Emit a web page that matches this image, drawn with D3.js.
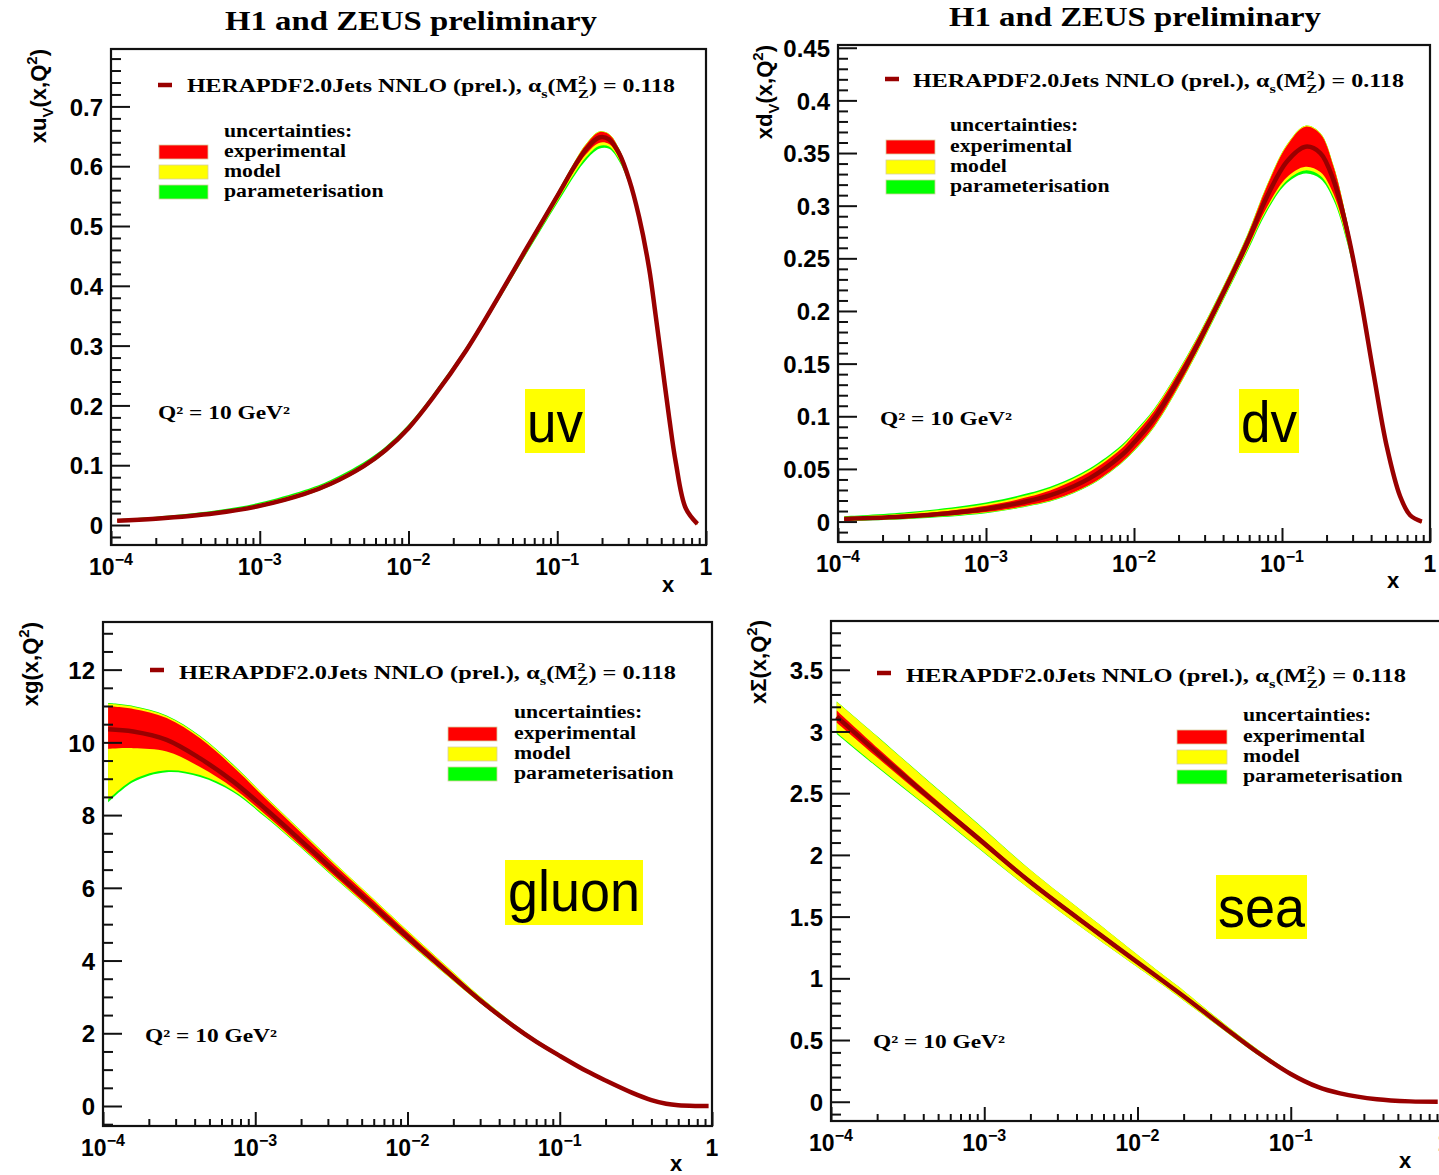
<!DOCTYPE html>
<html>
<head>
<meta charset="utf-8">
<script src="https://cdn.jsdelivr.net/npm/d3@7"></script>
<style>
body { margin: 0; background: #fff; }
.serif { font-family: "Liberation Serif", "Times New Roman", serif; font-weight: bold; fill: #000; }
.sans { font-family: "Liberation Sans", Arial, sans-serif; font-weight: bold; fill: #000; }
.tag { font-family: "Liberation Sans", Arial, sans-serif; font-weight: normal; fill: #000; }
</style>
</head>
<body>
<svg id="chart" width="1439" height="1175"></svg>
<script>
// ---- data (Q2 = 10 GeV2) ----
// xu_v
var uvX       = [1.1e-4, 2e-4, 5e-4, 1e-3, 2e-3, 3e-3, 5e-3, 7e-3, 0.01, 0.0145, 0.0244, 0.041, 0.062, 0.1, 0.133, 0.156, 0.191, 0.223, 0.261, 0.304, 0.355, 0.414, 0.459, 0.509, 0.565, 0.626, 0.731, 0.875];
var uvCentral = [0.007, 0.0105, 0.0197, 0.032, 0.052, 0.069, 0.0985, 0.125, 0.162, 0.212, 0.292, 0.385, 0.462, 0.550, 0.603, 0.628, 0.648, 0.645, 0.621, 0.578, 0.515, 0.430, 0.350, 0.265, 0.180, 0.105, 0.028, 0.002];
var uvExpUp   = [0.001, 0.001, 0.001, 0.0015, 0.002, 0.002, 0.002, 0.002, 0.002, 0.002, 0.0025, 0.003, 0.004, 0.005, 0.007, 0.008, 0.009, 0.008, 0.007, 0.005, 0.004, 0.003, 0.002, 0.002, 0.001, 0.001, 0.001, 0.001];
var uvExpDn   = [0.001, 0.001, 0.001, 0.0015, 0.002, 0.002, 0.002, 0.002, 0.002, 0.002, 0.0025, 0.003, 0.004, 0.005, 0.007, 0.008, 0.009, 0.008, 0.007, 0.005, 0.004, 0.003, 0.002, 0.002, 0.001, 0.001, 0.001, 0.001];
var uvModUp   = [0.001, 0.001, 0.0015, 0.002, 0.002, 0.002, 0.002, 0.002, 0.002, 0.002, 0.0015, 0.001, 0.001, 0.001, 0.001, 0.001, 0.001, 0.001, 0.001, 0.001, 0, 0, 0, 0, 0, 0, 0, 0];
var uvModDn   = [0.0005, 0.0005, 0.0005, 0.0005, 0.0005, 0.0008, 0.001, 0.001, 0.001, 0.001, 0.0015, 0.002, 0.003, 0.004, 0.005, 0.005, 0.005, 0.004, 0.003, 0.002, 0.001, 0, 0, 0, 0, 0, 0, 0];
var uvParUp   = [0.001, 0.0015, 0.002, 0.002, 0.0025, 0.0025, 0.0025, 0.002, 0.002, 0.002, 0.0015, 0.001, 0.0005, 0, 0, 0, 0, 0, 0, 0, 0, 0, 0, 0, 0, 0, 0, 0];
var uvParDn   = [0.0005, 0.0005, 0.0005, 0.0005, 0.0005, 0.0005, 0.0005, 0.001, 0.001, 0.001, 0.001, 0.0015, 0.002, 0.003, 0.004, 0.005, 0.005, 0.004, 0.003, 0.002, 0.001, 0, 0, 0, 0, 0, 0, 0];

// xd_v
var dvX       = [1.1e-4, 3e-4, 1e-3, 2e-3, 3e-3, 5e-3, 0.0081, 0.01, 0.0137, 0.0229, 0.0385, 0.0582, 0.0794, 0.108, 0.144, 0.1815, 0.223, 0.275, 0.338, 0.415, 0.511, 0.628, 0.734, 0.88];
var dvCentral = [0.0025, 0.005, 0.012, 0.020, 0.027, 0.041, 0.062, 0.075, 0.098, 0.150, 0.212, 0.265, 0.309, 0.342, 0.356, 0.350, 0.324, 0.277, 0.214, 0.141, 0.071, 0.024, 0.006, 0.0];
var dvExpUp   = [0.001, 0.0015, 0.003, 0.004, 0.005, 0.006, 0.0065, 0.007, 0.007, 0.006, 0.005, 0.006, 0.010, 0.015, 0.019, 0.018, 0.013, 0.008, 0.004, 0.002, 0.001, 0.001, 0.001, 0.001];
var dvExpDn   = [0.001, 0.0015, 0.003, 0.004, 0.005, 0.006, 0.0065, 0.007, 0.007, 0.006, 0.005, 0.006, 0.010, 0.015, 0.019, 0.018, 0.013, 0.008, 0.004, 0.002, 0.001, 0.001, 0.001, 0.001];
var dvModUp   = [0.001, 0.0015, 0.0018, 0.002, 0.002, 0.002, 0.0019, 0.0017, 0.0015, 0.0012, 0.001, 0.001, 0.001, 0.001, 0.001, 0.001, 0.001, 0.0005, 0, 0, 0, 0, 0, 0];
var dvModDn   = [0.0005, 0.0005, 0.0005, 0.0005, 0.0005, 0.0005, 0.0005, 0.0008, 0.001, 0.001, 0.001, 0.0015, 0.002, 0.003, 0.0035, 0.0035, 0.003, 0.002, 0.001, 0.0005, 0, 0, 0, 0];
var dvParUp   = [0.0005, 0.001, 0.0013, 0.0015, 0.0015, 0.0015, 0.0014, 0.0012, 0.001, 0.0008, 0.0005, 0.0003, 0, 0, 0, 0, 0, 0, 0, 0, 0, 0, 0, 0];
var dvParDn   = [0.0005, 0.0005, 0.0005, 0.0005, 0.0005, 0.0005, 0.0005, 0.0005, 0.0005, 0.0005, 0.001, 0.0015, 0.002, 0.0025, 0.003, 0.003, 0.0025, 0.002, 0.001, 0.0005, 0, 0, 0, 0];

// xg
var gX        = [1.08e-4, 1.58e-4, 2.62e-4, 4.34e-4, 7.18e-4, 1.19e-3, 1.97e-3, 3.26e-3, 5.39e-3, 8.9e-3, 0.018, 0.03, 0.05, 0.07, 0.1, 0.15, 0.2, 0.3, 0.4, 0.5, 0.6, 0.8, 0.95];
var gCentral  = [10.36, 10.30, 10.07, 9.56, 8.92, 8.14, 7.32, 6.49, 5.67, 4.84, 3.71, 2.91, 2.19, 1.77, 1.38, 0.96, 0.70, 0.36, 0.16, 0.06, 0.02, 0.002, 0.0];
var gExpUp    = [0.63, 0.62, 0.60, 0.55, 0.40, 0.28, 0.22, 0.17, 0.15, 0.13, 0.10, 0.07, 0.05, 0.045, 0.04, 0.03, 0.02, 0.01, 0.01, 0, 0, 0, 0];
var gExpDn    = [0.54, 0.46, 0.32, 0.24, 0.18, 0.16, 0.15, 0.14, 0.13, 0.12, 0.09, 0.07, 0.05, 0.045, 0.04, 0.03, 0.02, 0.01, 0.01, 0, 0, 0, 0];
var gModUp    = [0.07, 0.06, 0.05, 0.05, 0.05, 0.05, 0.05, 0.05, 0.05, 0.05, 0.04, 0.03, 0.02, 0.015, 0.01, 0.01, 0, 0, 0, 0, 0, 0, 0];
var gModDn    = [1.40, 0.87, 0.52, 0.22, 0.07, 0.04, 0.03, 0.03, 0.03, 0.02, 0.02, 0.01, 0.01, 0.01, 0.01, 0, 0, 0, 0, 0, 0, 0, 0];
var gParUp    = [0.02, 0.02, 0.02, 0.02, 0.02, 0.01, 0.01, 0.01, 0, 0, 0, 0, 0, 0, 0, 0, 0, 0, 0, 0, 0, 0, 0];
var gParDn    = [0.07, 0.06, 0.05, 0.05, 0.04, 0.03, 0.02, 0.02, 0.01, 0.01, 0, 0, 0, 0, 0, 0, 0, 0, 0, 0, 0, 0, 0];

// x Sigma (sea)
var sX        = [1.09e-4, 2.04e-4, 4.33e-4, 9.2e-4, 1.95e-3, 5.33e-3, 0.0146, 0.02, 0.037, 0.06, 0.1, 0.15, 0.21, 0.365, 0.6, 0.91];
var sCentral  = [3.12, 2.82, 2.47, 2.13, 1.79, 1.38, 0.98, 0.855, 0.60, 0.405, 0.225, 0.12, 0.068, 0.02, 0.003, 0.0];
var sExpUp    = [0.05, 0.04, 0.03, 0.025, 0.02, 0.02, 0.015, 0.015, 0.01, 0.01, 0.005, 0.003, 0, 0, 0, 0];
var sExpDn    = [0.05, 0.04, 0.03, 0.025, 0.02, 0.02, 0.015, 0.015, 0.01, 0.01, 0.005, 0.003, 0, 0, 0, 0];
var sModUp    = [0.07, 0.09, 0.095, 0.09, 0.08, 0.06, 0.035, 0.03, 0.02, 0.015, 0.01, 0.007, 0.005, 0, 0, 0];
var sModDn    = [0.08, 0.07, 0.055, 0.05, 0.04, 0.03, 0.02, 0.02, 0.015, 0.01, 0.005, 0.003, 0, 0, 0, 0];
var sParUp    = [0.003, 0.003, 0.003, 0.003, 0, 0, 0, 0, 0, 0, 0, 0, 0, 0, 0, 0];
var sParDn    = [0.01, 0.008, 0.005, 0.004, 0, 0, 0, 0, 0, 0, 0, 0, 0, 0, 0, 0];

// texts
var titleText   = "H1 and ZEUS preliminary";
var legendMain  = [["HERAPDF2.0Jets NNLO (prel.),\u00a0", ""], ["\u03b1", ""], ["s", "sub"], ["(M", ""], ["2", "supS"], ["Z", "sub"], [") = 0.118", ""]];
var uncTitle    = "uncertainties:";
var uncLabels   = ["experimental", "model", "parameterisation"];
var uncColors   = ["#ff0000", "#ffff00", "#00ff00"];
var q2Text      = "Q\u00b2 = 10 GeV\u00b2";
var xMajors     = [1e-4, 1e-3, 1e-2, 1e-1, 1];
var xMajorExp   = [-4, -3, -2, -1, 0];

var centralColor = "#990000";

var panels = [
  { name: "uv", box: [111, 49, 706, 545], yDom: [-0.0334, 0.796], yMajor: 0.1, yMinor: 0.02,
    x: uvX, c: uvCentral, eu: uvExpUp, ed: uvExpDn, mu: uvModUp, md: uvModDn, pu: uvParUp, pd: uvParDn,
    ytitle: [["xu", ""], ["V", "sub"], ["(x,Q", ""], ["2", "sup"], [")", ""]], ytx: 46, yty: 49,
    title: [411, 30],
    leg: { mx: 158, my: 85, tx: 187, ty: 92, tw: 488, ux: 224, uy: 137, bx: 159, by: 145, bw: 49, bh: 14 },
    q2: [158, 419], tag: { t: "uv", box: [525, 389, 60, 64], ty: 442, tl: 56 }, xt: [668, 592] },
  { name: "dv", box: [838, 45, 1430, 542], yDom: [-0.0194, 0.4526], yMajor: 0.05, yMinor: 0.01,
    x: dvX, c: dvCentral, eu: dvExpUp, ed: dvExpDn, mu: dvModUp, md: dvModDn, pu: dvParUp, pd: dvParDn,
    ytitle: [["xd", ""], ["V", "sub"], ["(x,Q", ""], ["2", "sup"], [")", ""]], ytx: 772, yty: 45,
    title: [1135, 26],
    leg: { mx: 885, my: 79, tx: 913, ty: 87, tw: 491, ux: 950, uy: 131, bx: 886, by: 140, bw: 49, bh: 14 },
    q2: [880, 425], tag: { t: "dv", box: [1239, 389, 60, 64], ty: 442, tl: 56 }, xt: [1393, 588] },
  { name: "gluon", box: [103, 622, 712, 1126], yDom: [-0.55, 13.31], yMajor: 2, yMinor: 0.5,
    x: gX, c: gCentral, eu: gExpUp, ed: gExpDn, mu: gModUp, md: gModDn, pu: gParUp, pd: gParDn,
    ytitle: [["xg(x,Q", ""], ["2", "sup"], [")", ""]], ytx: 38, yty: 622,
    title: null,
    leg: { mx: 150, my: 670, tx: 179, ty: 679, tw: 497, ux: 514, uy: 718, bx: 448, by: 727, bw: 49, bh: 14 },
    q2: [145, 1042], tag: { t: "gluon", box: [505, 860, 138, 65], ty: 911, tl: 132 }, xt: [676, 1171] },
  { name: "sea", box: [831, 621, 1444, 1121], yDom: [-0.156, 3.895], yMajor: 0.5, yMinor: 0.1,
    x: sX, c: sCentral, eu: sExpUp, ed: sExpDn, mu: sModUp, md: sModDn, pu: sParUp, pd: sParDn,
    ytitle: [["x\u03a3(x,Q", ""], ["2", "sup"], [")", ""]], ytx: 766, yty: 620,
    title: null,
    leg: { mx: 877, my: 673, tx: 906, ty: 682, tw: 500, ux: 1243, uy: 721, bx: 1177, by: 730, bw: 50, bh: 14 },
    q2: [873, 1048], tag: { t: "sea", box: [1216, 875, 91, 64], ty: 927, tl: 87 }, xt: [1405, 1168] }
];

var svg = d3.select("#chart");
var uncStretch = 1.21;

// draws a run of text pieces with sub/superscripts, returns the width
function rich(g, x, y, parts, size, cls) {
  var cx = x, stackW = 0;
  parts.forEach(function(p) {
    var t = p[0], kind = p[1], fs = size, dy = 0, adv = true;
    if (kind === "sub") { fs = size * 0.68; dy = size * 0.3; }
    if (kind === "sup") { fs = size * 0.68; dy = -size * 0.42; }
    if (kind === "supS") { fs = size * 0.68; dy = -size * 0.42; adv = false; }
    var el = g.append("text").attr("class", cls).attr("x", cx).attr("y", y + dy)
      .attr("font-size", fs).text(t);
    var w = el.node().getComputedTextLength();
    if (!adv) { stackW = w; return; }
    cx += Math.max(w, stackW);
    stackW = 0;
  });
  return cx - x;
}

function fmtY(v) { return v === 0 ? "0" : String(+v.toFixed(3)); }

panels.forEach(function(p, pi) {
  var x0 = p.box[0], y0 = p.box[1], x1 = p.box[2], y1 = p.box[3];
  var x = d3.scaleLog().domain([1e-4, 1]).range([x0, x1]);
  var y = d3.scaleLinear().domain(p.yDom).range([y1, y0]);
  var g = svg.append("g").attr("class", "panel-" + p.name);
  var curve = d3.curveCatmullRom.alpha(0.5);

  g.append("clipPath").attr("id", "clip" + pi).append("rect")
    .attr("x", x0).attr("y", y0).attr("width", x1 - x0).attr("height", y1 - y0);

  // bands: experimental, + model, + parameterisation
  var rows = p.x.map(function(xv, i) {
    var lo1 = p.c[i] - p.ed[i], hi1 = p.c[i] + p.eu[i];
    var lo2 = lo1 - p.md[i], hi2 = hi1 + p.mu[i];
    return { x: xv, c: p.c[i], lo1: lo1, hi1: hi1, lo2: lo2, hi2: hi2, lo3: lo2 - p.pd[i], hi3: hi2 + p.pu[i] };
  });
  var plot = g.append("g").attr("clip-path", "url(#clip" + pi + ")");
  [["lo3", "hi3", uncColors[2]], ["lo2", "hi2", uncColors[1]], ["lo1", "hi1", uncColors[0]]].forEach(function(b) {
    var area = d3.area().curve(curve)
      .x(function(d) { return x(d.x); })
      .y0(function(d) { return y(d[b[0]]); })
      .y1(function(d) { return y(d[b[1]]); });
    plot.append("path").datum(rows).attr("d", area).attr("fill", b[2]).attr("stroke", "none");
  });
  var line = d3.line().curve(curve)
    .x(function(d) { return x(d.x); })
    .y(function(d) { return y(d.c); });
  plot.append("path").datum(rows).attr("d", line).attr("fill", "none")
    .attr("stroke", centralColor).attr("stroke-width", 4.5).attr("stroke-linejoin", "round");

  // frame
  g.append("rect").attr("x", x0).attr("y", y0).attr("width", x1 - x0).attr("height", y1 - y0)
    .attr("fill", "none").attr("stroke", "#111").attr("stroke-width", 2.2);

  // y axis
  var nMaj = Math.floor(p.yDom[1] / p.yMajor + 1e-9);
  var yMaj = d3.range(0, nMaj + 1).map(function(i) { return +(i * p.yMajor).toFixed(4); });
  var yMin = d3.range(Math.ceil(p.yDom[0] / p.yMinor - 1e-9), Math.floor(p.yDom[1] / p.yMinor + 1e-9) + 1)
    .map(function(i) { return +(i * p.yMinor).toFixed(4); })
    .filter(function(v) { return yMaj.indexOf(v) < 0; });
  g.append("g").attr("transform", "translate(" + x0 + ",0)")
    .call(d3.axisLeft(y).tickValues(yMin).tickSize(-10).tickFormat(""))
    .call(function(a) { a.select(".domain").remove(); });
  var ya = g.append("g").attr("transform", "translate(" + x0 + ",0)")
    .call(d3.axisLeft(y).tickValues(yMaj).tickSize(-19).tickPadding(8).tickFormat(fmtY))
    .call(function(a) { a.select(".domain").remove(); });
  ya.selectAll("text").attr("class", "sans").attr("font-size", 24).attr("dy", "0.36em");

  // x axis
  var xMin = [];
  [-4, -3, -2, -1].forEach(function(e) {
    d3.range(2, 10).forEach(function(k) { xMin.push(k * Math.pow(10, e)); });
  });
  g.append("g").attr("transform", "translate(0," + y1 + ")")
    .call(d3.axisBottom(x).tickValues(xMin).tickSize(-7).tickFormat(""))
    .call(function(a) { a.select(".domain").remove(); });
  g.append("g").attr("transform", "translate(0," + y1 + ")")
    .call(d3.axisBottom(x).tickValues(xMajors).tickSize(-14).tickFormat(""))
    .call(function(a) { a.select(".domain").remove(); });
  g.selectAll(".tick line").attr("stroke", "#111").attr("stroke-width", 2);

  xMajors.forEach(function(v, i) {
    var t = g.append("text").attr("class", "sans").attr("x", x(v)).attr("y", y1 + 30)
      .attr("text-anchor", "middle").attr("font-size", 23);
    if (xMajorExp[i] === 0) { t.text("1"); return; }
    t.append("tspan").text("10");
    t.append("tspan").attr("dy", -10).attr("font-size", 16).text("\u2212" + (-xMajorExp[i]));
  });
  g.append("text").attr("class", "sans").attr("x", p.xt[0]).attr("y", p.xt[1])
    .attr("text-anchor", "middle").attr("font-size", 22).text("x");

  // y title, rotated, ending at the top of the frame
  var yt = g.append("g");
  var yw = rich(yt, 0, 0, p.ytitle, 22, "sans");
  yt.attr("transform", "translate(" + p.ytx + "," + (p.yty + yw) + ") rotate(-90)");

  // title
  if (p.title) {
    g.append("text").attr("class", "serif").attr("x", p.title[0]).attr("y", p.title[1])
      .attr("text-anchor", "middle").attr("font-size", 28)
      .attr("textLength", 372).attr("lengthAdjust", "spacingAndGlyphs").text(titleText);
  }

  // legend
  var L = p.leg;
  g.append("line").attr("x1", L.mx).attr("x2", L.mx + 14).attr("y1", L.my).attr("y2", L.my)
    .attr("stroke", centralColor).attr("stroke-width", 4.5);
  var lg = g.append("g");
  var lw = rich(lg, L.tx, L.ty, legendMain, 18.5, "serif");
  lg.attr("transform", "translate(" + L.tx + ",0) scale(" + (L.tw / lw) + ",1) translate(" + (-L.tx) + ",0)");

  uncLabels.forEach(function(lab, i) {
    g.append("rect").attr("x", L.bx).attr("y", L.by + i * 20).attr("width", L.bw).attr("height", L.bh)
      .attr("fill", uncColors[i]).attr("stroke", "#d8d0a0").attr("stroke-width", 0.8);
  });
  var ug = g.append("g")
    .attr("transform", "translate(" + L.ux + ",0) scale(" + uncStretch + ",1) translate(" + (-L.ux) + ",0)");
  ug.append("text").attr("class", "serif").attr("x", L.ux).attr("y", L.uy).attr("font-size", 18)
    .text(uncTitle);
  uncLabels.forEach(function(lab, i) {
    ug.append("text").attr("class", "serif").attr("x", L.ux).attr("y", L.by + i * 20 + 12)
      .attr("font-size", 18).text(lab);
  });

  g.append("text").attr("class", "serif").attr("x", p.q2[0]).attr("y", p.q2[1])
    .attr("font-size", 18).attr("textLength", 132).attr("lengthAdjust", "spacingAndGlyphs").text(q2Text);

  // big yellow tag
  var T = p.tag;
  g.append("rect").attr("x", T.box[0]).attr("y", T.box[1]).attr("width", T.box[2]).attr("height", T.box[3])
    .attr("fill", "#ffff00");
  g.append("text").attr("class", "tag").attr("x", T.box[0] + T.box[2] / 2).attr("y", T.ty)
    .attr("text-anchor", "middle").attr("font-size", 58)
    .attr("textLength", T.tl).attr("lengthAdjust", "spacingAndGlyphs").text(T.t);
});
</script>
</body>
</html>
